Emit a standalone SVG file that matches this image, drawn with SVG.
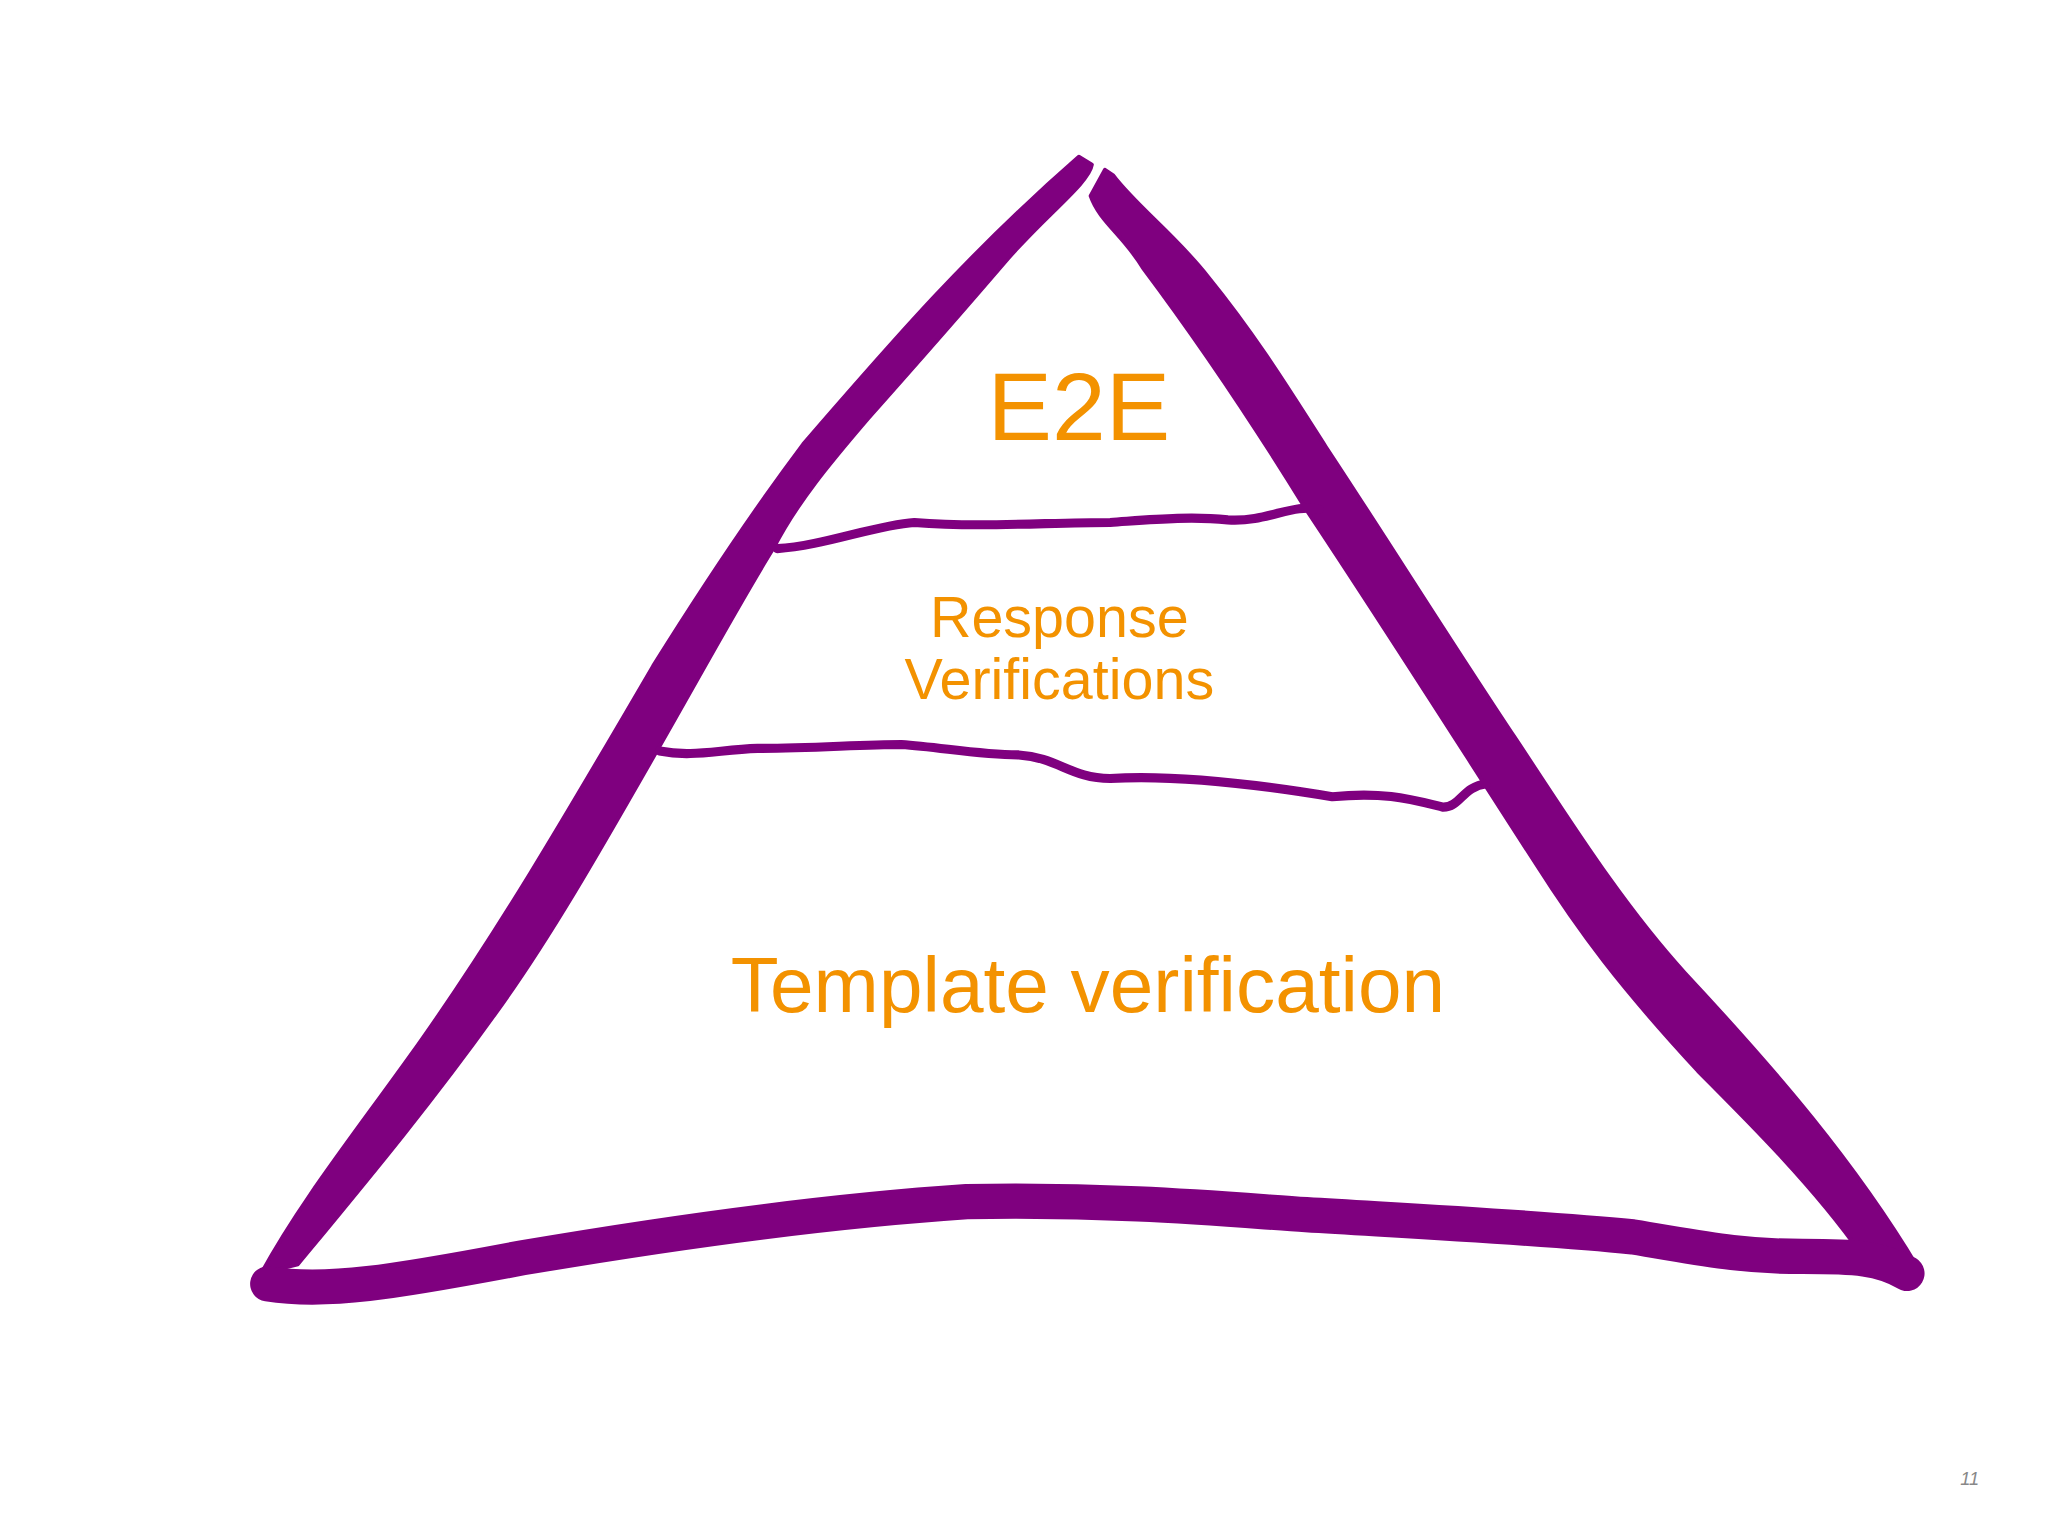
<svg xmlns="http://www.w3.org/2000/svg" width="2048" height="1536" viewBox="0 0 2048 1536">
<style>
.p{fill:none;stroke:#7f007f;stroke-linecap:round;stroke-linejoin:round}
.f{fill:#7f007f;stroke:#7f007f;stroke-width:3;stroke-linejoin:round}
.t{fill:#f39200;font-family:"Liberation Sans",Arial,sans-serif;text-anchor:middle}
</style>
<rect width="2048" height="1536" fill="#fff"/>
<g transform="scale(1.30612)">
<g id="pyramid">
<path class="f" d="M826,120 L836,126 C834,140 800,165 770,200 C740,235 705,275 665,320 C635,355 610,385 592,420 C570,455 540,510 500,580 C460,650 420,720 380,775 C330,845 280,905 228,968 L200,975 C230,920 270,870 320,800 C380,715 430,630 500,510 C550,430 585,380 615,340 C680,265 740,195 826,120 Z"/>
<path class="f" d="M846,130 L852,134 C870,158 900,180 925,212 C960,255 985,295 1015,342 C1060,410 1110,490 1160,565 C1200,625 1240,690 1290,745 C1360,820 1420,890 1468,970 L1460,985 L1425,960 C1390,910 1340,860 1300,820 C1240,755 1210,715 1175,660 C1120,575 1060,480 1000,390 C960,325 920,265 875,205 C860,180 842,170 835,150 Z"/>
<path class="p" stroke-width="27" d="M205,983 C250,990 300,982 400,963 C500,946 620,928 740,920 C860,918 940,926 1000,930 C1100,936 1180,940 1250,947 C1300,955 1330,962 1380,962 C1420,962 1440,963 1460,975"/>
</g>
<g id="lines">
<path class="p" stroke-width="7" d="M595,420 C630,418 670,402 700,400 C750,404 800,400 850,400 C880,398 910,395 940,398 C970,400 990,385 1010,390"/>
<path class="p" stroke-width="7" d="M505,575 C530,580 550,574 580,573 C620,573 660,570 690,570 C720,572 750,578 780,578 C810,580 820,596 850,596 C900,593 960,600 1020,610 C1060,606 1080,612 1105,618 C1118,618 1120,602 1138,600"/>
</g>
<g id="labels">
<text class="t" x="826" y="337" font-size="74">E2E</text>
<text class="t" x="811" y="488" font-size="44">Response</text>
<text class="t" x="811" y="535" font-size="44">Verifications</text>
<text class="t" x="833" y="775" font-size="60">Template verification</text>
<text x="1508" y="1137" font-size="14" font-style="italic" fill="#888" font-family="'Liberation Sans',Arial,sans-serif" text-anchor="middle">11</text>
</g>
</g>
</svg>
